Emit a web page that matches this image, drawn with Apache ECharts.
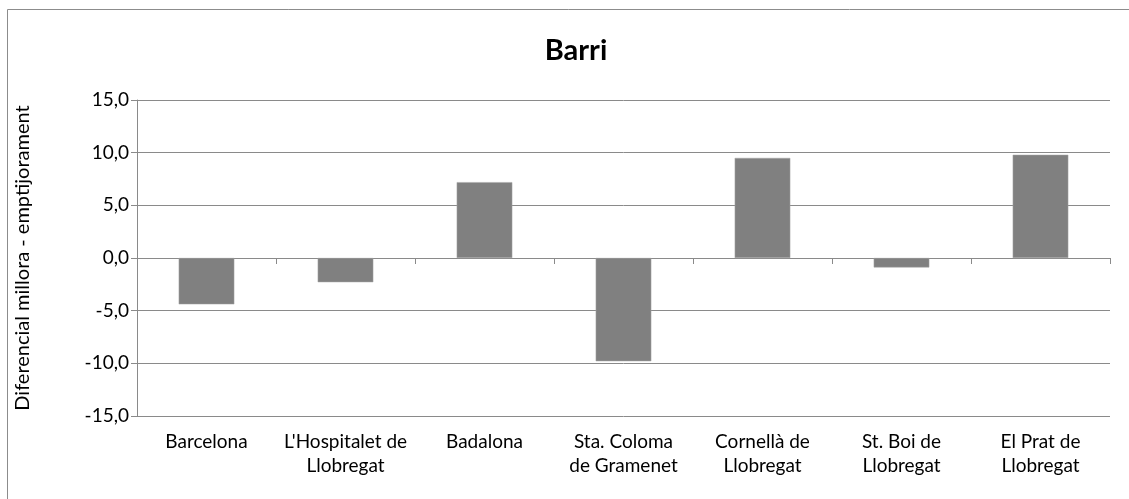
<!DOCTYPE html>
<html>
<head>
<meta charset="utf-8">
<script src="https://cdn.jsdelivr.net/npm/echarts@6/dist/echarts.min.js"></script>
<style>
  html, body { margin: 0; padding: 0; background: #fff; }
  #chart { width: 1129px; height: 499px; }
</style>
</head>
<body>
<div id="chart"></div>
<script>
// Districts shown along the category axis
const categories = [
  "Barcelona",
  "L'Hospitalet de\nLlobregat",
  "Badalona",
  "Sta. Coloma\nde Gramenet",
  "Cornellà de\nLlobregat",
  "St. Boi de\nLlobregat",
  "El Prat de\nLlobregat"
];
// Difference between improvement and worsening, per district
const diferencial = [-4.4, -2.3, 7.2, -9.8, 9.5, -0.9, 9.8];
// Value axis range and step
const yMin = -15;
const yMax = 15;
const yStep = 5;

const labelFont = "Lato, 'Open Sans', sans-serif";
const gridColor = '#8a8a8a';

const chart = echarts.init(document.getElementById('chart'), null, { renderer: 'canvas' });
chart.setOption({
  backgroundColor: '#ffffff',
  animation: false,
  title: {
    text: 'Barri',
    left: 571,
    textAlign: 'center',
    top: 31,
    textStyle: { fontFamily: labelFont, fontSize: 29, fontWeight: 'bold', color: '#000' }
  },
  graphic: [{
    type: 'rect',
    shape: { x: 7.5, y: 9.5, width: 1140, height: 520 },
    style: { fill: 'none', stroke: '#8c8c8c', lineWidth: 1 },
    silent: true
  }],
  grid: { left: 137, right: 19, top: 100, bottom: 83, containLabel: false },
  xAxis: [{
    type: 'category',
    data: categories,
    position: 'bottom',
    axisLine: { show: false, onZero: false },
    axisTick: { show: false },
    axisLabel: {
      interval: 0,
      margin: 14,
      lineHeight: 24,
      fontFamily: labelFont,
      fontSize: 19,
      color: '#000'
    }
  }, {
    type: 'category',
    data: categories,
    position: 'bottom',
    axisLine: { show: true, onZero: true, lineStyle: { color: gridColor, width: 1 } },
    axisTick: { show: true, alignWithLabel: false, length: 6, inside: false, lineStyle: { color: gridColor } },
    axisLabel: { show: false },
    splitLine: { show: false }
  }],
  yAxis: {
    type: 'value',
    min: yMin,
    max: yMax,
    interval: yStep,
    name: 'Diferencial millora - emptijorament',
    nameLocation: 'middle',
    nameGap: 104,
    nameRotate: 90,
    nameTextStyle: { fontFamily: labelFont, fontSize: 20, color: '#000' },
    axisLine: { show: true, lineStyle: { color: gridColor, width: 1 } },
    axisTick: { show: true, length: 6, lineStyle: { color: gridColor } },
    splitLine: { show: true, lineStyle: { color: gridColor, width: 1 } },
    axisLabel: {
      margin: 8,
      fontFamily: labelFont,
      fontSize: 19,
      color: '#000',
      formatter: v => v.toFixed(1).replace('.', ',')
    }
  },
  series: [{
    type: 'bar',
    xAxisIndex: 0,
    data: diferencial,
    barWidth: '40%',
    itemStyle: { color: '#808080', borderColor: '#a6a6a6', borderWidth: 0.5 }
  }]
});
</script>
</body>
</html>
